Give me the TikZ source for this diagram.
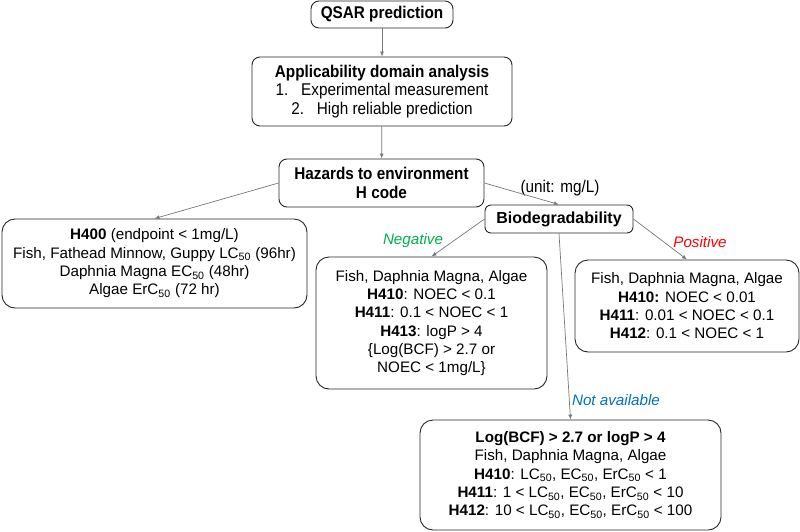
\documentclass[tikz,border=0pt]{standalone}
\usepackage{fontspec}
\setmainfont{Liberation Sans}
\newfontfamily\narrowfont[FakeStretch=0.9]{Liberation Sans}
\usetikzlibrary{arrows.meta,positioning}
\definecolor{neggreen}{RGB}{0,176,80}
\definecolor{posred}{RGB}{255,0,0}
\definecolor{navblue}{RGB}{0,112,192}
\definecolor{linegray}{RGB}{120,120,120}

\begin{document}
\begin{tikzpicture}[
    x=1pt, y=-1pt,
    >={Latex[length=5pt,width=4pt]},
    topbox/.style={rectangle, rounded corners=8pt, draw=black!85, line width=0.9pt,
                   align=center, inner sep=2pt, font=\fontsize{17}{18.3}\selectfont\narrowfont},
    resbox/.style={rectangle, rounded corners=13pt, draw=black!85, line width=0.9pt,
                   align=center, inner sep=2pt, font=\fontsize{15.2}{18.3}\selectfont},
    flow/.style={->, draw=linegray, line width=0.7pt},
    branch/.style={font=\fontsize{15.2}{18}\selectfont\itshape},
]
\useasboundingbox (0,0) rectangle (800,531);

% Main chain
\node[topbox, minimum width=142pt, minimum height=27pt] (qsar) at (382, 14.5) {\textbf{QSAR prediction}};
\node[topbox, minimum width=260pt, minimum height=69pt] (ada) at (382, 91.5)
    {\textbf{Applicability domain analysis}\\1.\ \ \ Experimental measurement\\2.\ \ \ High reliable prediction};
\node[topbox, minimum width=205pt, minimum height=48pt] (haz) at (381.5, 183) {\textbf{Hazards to environment}\\\textbf{H code}};

\draw[flow] (qsar) -- (ada);
\draw[flow] (ada) -- (haz);

% Acute hazard
\node[resbox, minimum width=305pt, minimum height=89pt] (h400) at (154.5, 263.5)
    {\textbf{H400} (endpoint < 1mg/L)\\Fish, Fathead Minnow, Guppy LC\textsubscript{50} (96hr)\\Daphnia Magna EC\textsubscript{50} (48hr)\\Algae ErC\textsubscript{50} (72 hr)};

% Chronic hazard
\node[resbox, rounded corners=6pt, minimum width=148pt, minimum height=28pt,
      font=\fontsize{16}{18}\selectfont] (bio) at (559, 219) {\textbf{Biodegradability}};
\node[font=\fontsize{17}{18}\selectfont\narrowfont] (unit) at (560, 188) {(unit: mg/L)};

\node[resbox, minimum width=231pt, minimum height=132pt] (neg) at (431.5, 323)
    {Fish, Daphnia Magna, Algae\\\textbf{H410}: NOEC < 0.1\\\textbf{H411}: 0.1 < NOEC < 1\\\textbf{H413}: logP > 4\\\{Log(BCF) > 2.7 or\\NOEC < 1mg/L\}};
\node[resbox, minimum width=224pt, minimum height=92pt] (pos) at (687, 306)
    {Fish, Daphnia Magna, Algae\\\textbf{H410:} NOEC < 0.01\\\textbf{H411}: 0.01 < NOEC < 0.1\\\textbf{H412}: 0.1 < NOEC < 1};
\node[resbox, minimum width=301pt, minimum height=110pt] (nav) at (570.5, 475)
    {\textbf{Log(BCF) > 2.7 or logP > 4}\\Fish, Daphnia Magna, Algae\\\textbf{H410}: LC\textsubscript{50}, EC\textsubscript{50}, ErC\textsubscript{50} < 1\\\textbf{H411}: 1 < LC\textsubscript{50}, EC\textsubscript{50}, ErC\textsubscript{50} < 10\\\textbf{H412}: 10 < LC\textsubscript{50}, EC\textsubscript{50}, ErC\textsubscript{50} < 100};

\node[branch, text=neggreen] (neglabel) at (413, 241) {Negative};
\node[branch, text=posred] (poslabel) at (700, 242) {Positive};
\node[branch, text=navblue] (navlabel) at (616, 400) {Not available};

\draw[flow] (haz.west) -- (h400.north);
\draw[flow] (haz.east) -- (bio.north);
\draw[flow] (bio.west) -- (neg.north);
\draw[flow] (bio.east) -- (pos.north);
\draw[flow] (bio.south) -- (nav.north);

\end{tikzpicture}
\end{document}
